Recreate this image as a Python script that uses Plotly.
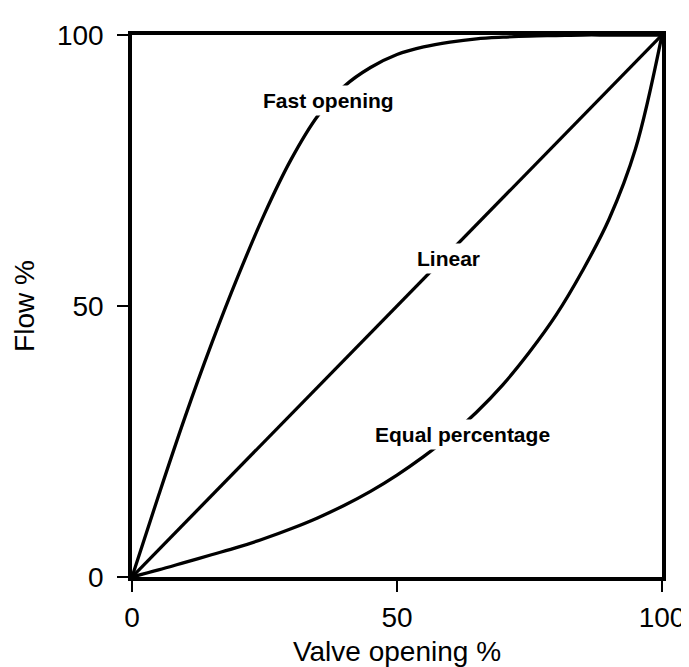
import plotly.graph_objects as go

# Valve opening % (x) vs Flow % (y)
valve_x = [0, 5, 10, 15, 20, 25, 30, 35, 40, 45, 50, 55, 60, 65, 70, 75, 80, 85, 90, 95, 100]
fast_y = [0, 15, 29.5, 43, 55.5, 67, 77, 85, 90.5, 94, 96.4, 97.8, 98.7, 99.3, 99.6, 99.8, 99.9, 100, 100, 100, 100]
eq_y = [0, 1.3, 2.7, 4.1, 5.5, 7.1, 8.9, 10.9, 13.2, 15.8, 18.8, 22.2, 26.0, 30.4, 35.5, 41.5, 48.3, 56.5, 66, 79, 100]

linear_x = [0, 100]
linear_y = [0, 100]

labels = ["Fast opening", "Linear", "Equal percentage"]
label_x = [37, 59.7, 62.3]
label_y = [88, 58.8, 26.3]

ticks = [0, 50, 100]

FONT = "Liberation Sans, Arial, Helvetica"

fig = go.Figure()
for xs, ys in [(valve_x, fast_y), (linear_x, linear_y), (valve_x, eq_y)]:
    fig.add_trace(go.Scatter(x=xs, y=ys, mode="lines",
                             line=dict(color="black", width=3.3, shape="spline", smoothing=1),
                             showlegend=False, hoverinfo="skip"))

for t, lx, ly in zip(labels, label_x, label_y):
    fig.add_annotation(x=lx, y=ly, text="<b>%s</b>" % t, showarrow=False,
                       font=dict(family=FONT, size=21, color="black"),
                       bgcolor="white", borderpad=3)

axis_common = dict(range=[0, 100], tickvals=ticks, ticktext=[str(t) for t in ticks],
                   showline=True, mirror=True, linecolor="black", linewidth=3.5,
                   ticks="outside", ticklen=11, tickwidth=2, tickcolor="black",
                   showgrid=False, zeroline=False,
                   tickfont=dict(family=FONT, size=28, color="black"))

fig.update_xaxes(title=dict(text="Valve opening %", font=dict(family=FONT, size=28, color="black"), standoff=10),
                 ticklabelstandoff=2, **axis_common)
fig.update_yaxes(title=dict(text="Flow %", font=dict(family=FONT, size=28, color="black"), standoff=15),
                 ticklabelstandoff=8, **axis_common)

fig.update_layout(width=689, height=667, plot_bgcolor="white", paper_bgcolor="white",
                  margin=dict(l=124, r=27, t=22, b=94))

fig.write_html("out.html")
